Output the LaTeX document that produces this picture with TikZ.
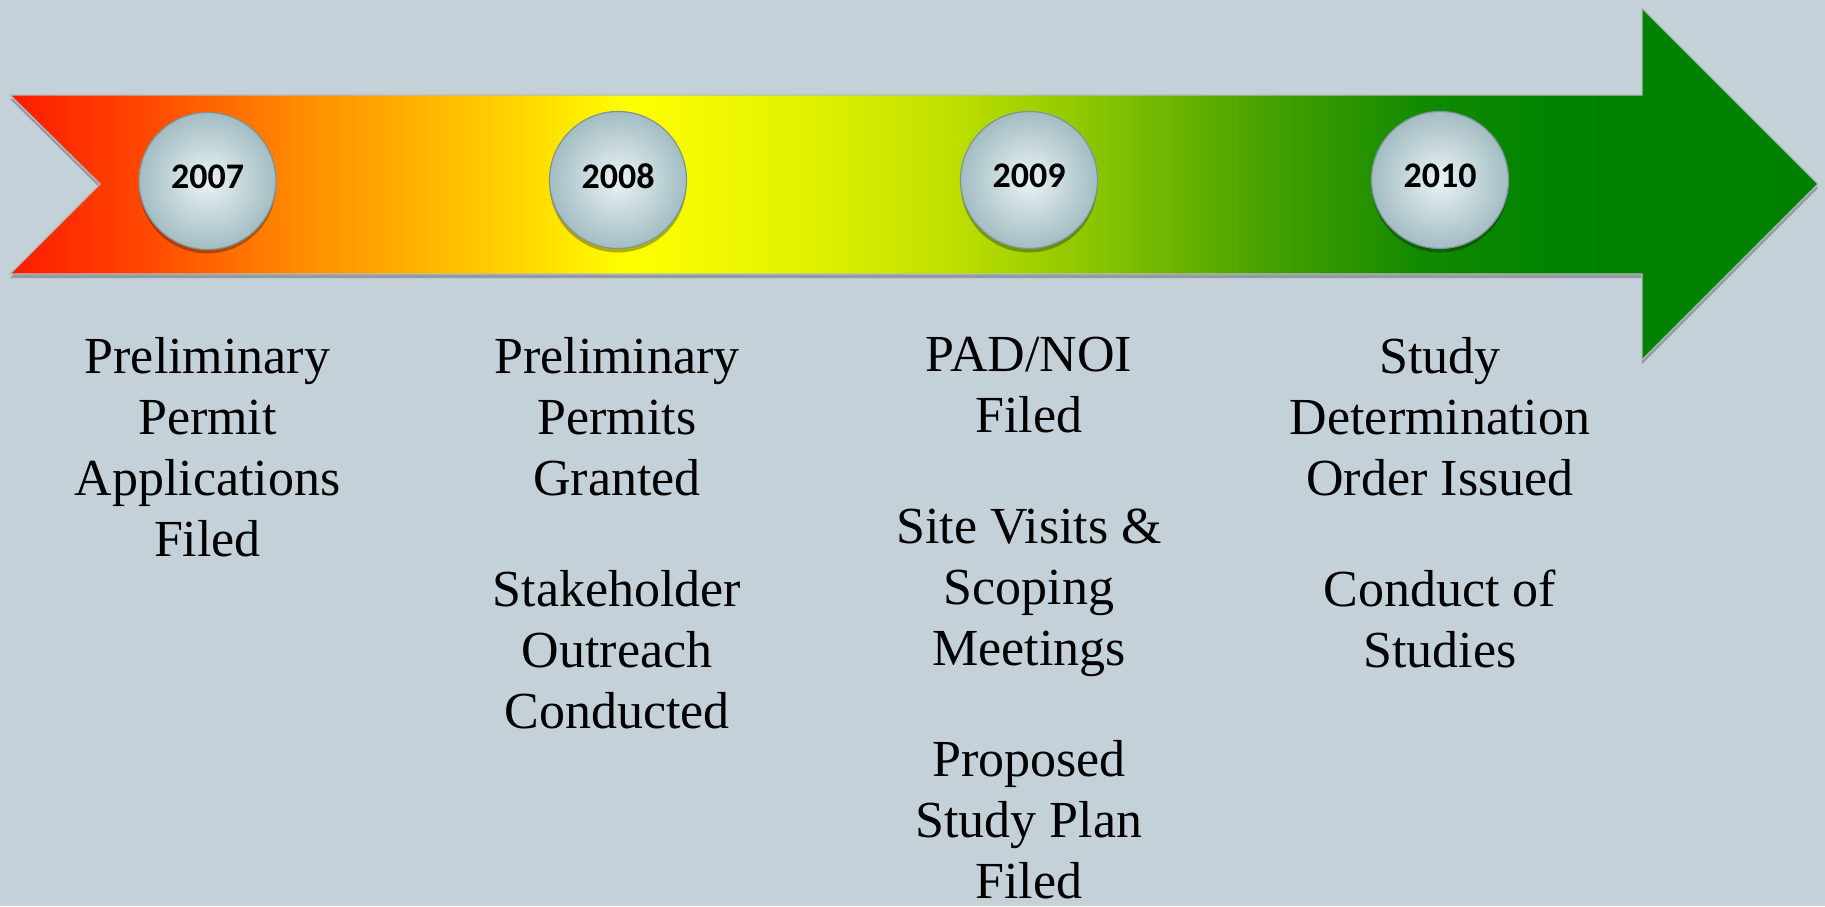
\documentclass[tikz,border=0pt]{standalone}
\usepackage{fontspec}
\setmainfont{Liberation Serif}
\newfontfamily\yearfont{Carlito}
\usetikzlibrary{shadows}
\definecolor{bg}{HTML}{C5D1D8}
\definecolor{arrowedge}{HTML}{B4BCC0}
\definecolor{ballin}{HTML}{EAF3F5}
\definecolor{ballout}{HTML}{A3BDC3}
\definecolor{balledge}{HTML}{7F9499}
\definecolor{ga}{HTML}{FF1A00}
\definecolor{gb}{HTML}{FF4A00}
\definecolor{gc}{HTML}{FF8C00}
\definecolor{gd}{HTML}{FFC400}
\definecolor{ge}{HTML}{FFFF00}
\definecolor{gf}{HTML}{E2F200}
\definecolor{gg}{HTML}{BFE000}
\definecolor{gh}{HTML}{88C400}
\definecolor{gi}{HTML}{4CA400}
\definecolor{gj}{HTML}{128A00}
\definecolor{gk}{HTML}{008300}
\definecolor{gl}{HTML}{008000}
\pgfdeclarehorizontalshading{timeline}{100bp}{color(0bp)=(ga); color(25bp)=(ga); color(28.87bp)=(gb); color(33.02bp)=(gc); color(37.72bp)=(gd); color(42.12bp)=(ge); color(46.85bp)=(gf); color(51bp)=(gg); color(55.14bp)=(gh); color(59.29bp)=(gi); color(64bp)=(gj); color(67.6bp)=(gk); color(75bp)=(gl); color(100bp)=(gl)}
\tikzset{
  timelinearrow/.style={shade, shading=timeline, draw=arrowedge, line width=1.2pt, line join=miter,
    drop shadow={shadow xshift=0pt, shadow yshift=-4pt, opacity=0.25, fill=black}},
  yearball/.style={circle, minimum size=137pt, inner sep=0pt, draw=balledge, line width=1.2pt,
    inner color=ballin, outer color=ballout,
    drop shadow={shadow xshift=0pt, shadow yshift=-4pt, opacity=0.3, fill=black}},
  yeartext/.style={inner sep=0pt, font=\yearfont\bfseries\fontsize{36}{40}\selectfont},
  desc/.style={align=center, anchor=north, inner sep=0pt, font=\fontsize{52}{61}\selectfont}
}
\begin{document}
\begin{tikzpicture}[x=1pt, y=-1pt]
\useasboundingbox (0,0) rectangle (1825,906);
\fill[bg] (0,0) rectangle (1825,906);
\path[timelinearrow] (10,95) -- (1642,95) -- (1642,8) -- (1818,184) -- (1642,360) -- (1642,274) -- (10,274) -- (100,184) -- cycle;
\node[yearball] (c07) at (207.5,181) {};
\node[yearball] (c08) at (618,180) {};
\node[yearball] (c09) at (1029,180) {};
\node[yearball] (c10) at (1440,180) {};
\node[yeartext] (t07) at ([yshift=4.5pt]c07.center) {2007};
\node[yeartext] (t08) at ([yshift=4pt]c08.center) {2008};
\node[yeartext] (t09) at ([yshift=4pt]c09.center) {2009};
\node[yeartext] (t10) at ([yshift=4pt]c10.center) {2010};
\node[desc] (d07) at (207.5,337) {Preliminary\\Permit\\Applications\\Filed};
\node[desc] (d08) at (617,337) {Preliminary\\Permits\\Granted\\[50pt]Stakeholder\\Outreach\\Conducted};
\node[desc] (d09) at (1029,337) {PAD/NOI\\Filed\\[50pt]Site Visits \&\\Scoping\\Meetings\\[50pt]Proposed\\Study Plan\\Filed};
\node[desc] (d10) at (1440,337) {Study\\Determination\\Order Issued\\[50pt]Conduct of\\Studies};
\end{tikzpicture}
\end{document}
